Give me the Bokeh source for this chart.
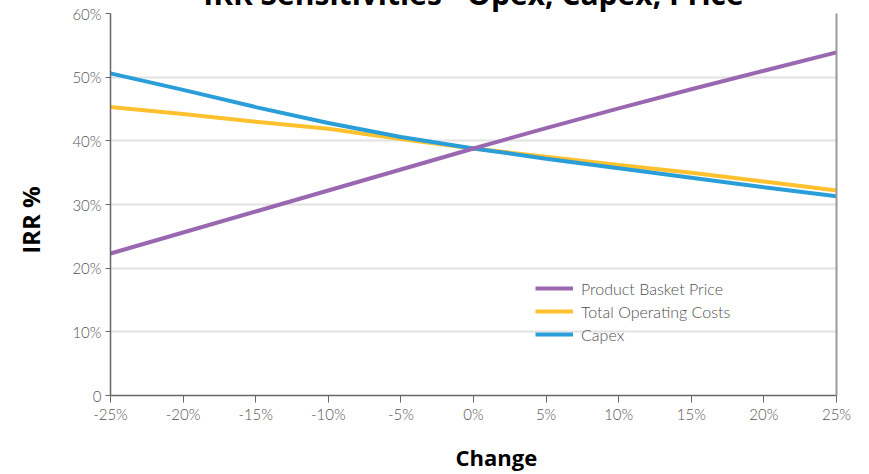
from bokeh.plotting import figure
from bokeh.models import (Legend, LegendItem, LinearAxis, FixedTicker,
                          ColumnDataSource, Range1d)
from bokeh.embed import file_html
from bokeh.resources import INLINE

# ---- data ----
change = [-25, -20, -15, -10, -5, 0, 5, 10, 15, 20, 25]
price_irr = [22.3, 25.6, 28.9, 32.2, 35.5, 38.8, 42.0, 45.1, 48.1, 51.0, 53.9]
opex_irr = [45.3, 44.2, 43.0, 41.9, 40.3, 38.8, 37.5, 36.2, 35.0, 33.6, 32.2]
capex_irr = [50.6, 48.0, 45.3, 42.8, 40.6, 38.8, 37.2, 35.7, 34.2, 32.7, 31.3]
x_ticks = [-25, -20, -15, -10, -5, 0, 5, 10, 15, 20, 25]
y_ticks = [0, 10, 20, 30, 40, 50, 60]
series_names = ["Product Basket Price", "Total Operating Costs", "Capex"]
series_colors = ["#9A68B0", "#FFC12E", "#2A9ED8"]
title_text = "IRR Sensitivities - Opex, Capex, Price"
x_title = "Change"
y_title = "IRR %"

src = ColumnDataSource(dict(x=change, price=price_irr, opex=opex_irr, capex=capex_irr))

# the reference shows its title cut off by the top of the page: the figure is
# taller than the window and shifted up by a negative top margin
OFF = 36
p = figure(width=869, height=474 + OFF, output_backend="svg", toolbar_location=None,
           x_range=Range1d(-25, 25), y_range=Range1d(0, 60),
           min_border_left=110, min_border_right=33, min_border_top=13 + OFF,
           min_border_bottom=77, outline_line_color=None,
           margin=(-OFF, 0, 0, 0))
p.background_fill_color = "white"
p.border_fill_color = "white"

p.title.text = title_text
p.title.align = "center"
p.title.vertical_align = "bottom"
p.title.text_font = "Open Sans"
p.title.text_font_style = "bold"
p.title.text_font_size = "30px"
p.title.text_color = "black"
p.title.standoff = 0

tick_font = "Lato Light, Lato"
tick_color = "#555555"
pad = "\u00a0"

# x axis
xa = p.xaxis[0]
xa.ticker = FixedTicker(ticks=x_ticks)
xa.major_label_overrides = {t: f"{t}%" for t in x_ticks}
xa.major_label_text_font = tick_font
xa.major_label_text_font_size = "15px"
xa.major_label_text_color = tick_color
xa.major_tick_in = 0
xa.major_tick_out = 7
xa.minor_tick_line_color = None
xa.major_tick_line_color = "#666666"
xa.axis_line_color = "#666666"
xa.axis_line_width = 1.5
xa.major_label_standoff = 2
xa.axis_label = pad * 8 + x_title
xa.axis_label_text_font = "Open Sans"
xa.axis_label_text_font_style = "bold"
xa.axis_label_text_font_size = "22px"
xa.axis_label_text_color = "black"
xa.axis_label_standoff = 16

# y axis
ya = p.yaxis[0]
ya.ticker = FixedTicker(ticks=y_ticks)
ya.major_label_overrides = {t: ("0" if t == 0 else f"{t}%") for t in y_ticks}
ya.major_label_text_font = tick_font
ya.major_label_text_font_size = "15px"
ya.major_label_text_color = tick_color
ya.major_tick_in = 0
ya.major_tick_out = 5
ya.minor_tick_line_color = None
ya.major_tick_line_color = "#666666"
ya.axis_line_color = "#666666"
ya.axis_line_width = 1.5
ya.major_label_standoff = 4
ya.axis_label = y_title + pad * 5
ya.axis_label_text_font = "Open Sans"
ya.axis_label_text_font_style = "bold"
ya.axis_label_text_font_size = "24px"
ya.axis_label_text_color = "black"
ya.axis_label_standoff = 22

# right border line
ra = LinearAxis(ticker=FixedTicker(ticks=[]), major_label_text_font_size="0px",
                major_tick_line_color=None, minor_tick_line_color=None,
                axis_line_color="#9a9a9a", axis_line_width=2)
p.add_layout(ra, "right")

p.xgrid.grid_line_color = None
p.ygrid.ticker = FixedTicker(ticks=y_ticks)
p.ygrid.grid_line_color = "#e2e2e2"
p.ygrid.grid_line_width = 2

r_opex = p.line("x", "opex", source=src, line_color=series_colors[1], line_width=4)
r_capex = p.line("x", "capex", source=src, line_color=series_colors[2], line_width=4)
r_price = p.line("x", "price", source=src, line_color=series_colors[0], line_width=4)

legend = Legend(items=[LegendItem(label=series_names[0], renderers=[r_price]),
                       LegendItem(label=series_names[1], renderers=[r_opex]),
                       LegendItem(label=series_names[2], renderers=[r_capex])],
                location=(425, 51), padding=0, margin=0, spacing=3,
                glyph_width=38, glyph_height=20, label_height=20,
                label_standoff=8, label_text_font=tick_font,
                label_text_font_size="16px", label_text_color="#505050",
                background_fill_alpha=0, border_line_color=None)
p.add_layout(legend, "center")

open("out.html", "w").write(file_html(p, INLINE))
